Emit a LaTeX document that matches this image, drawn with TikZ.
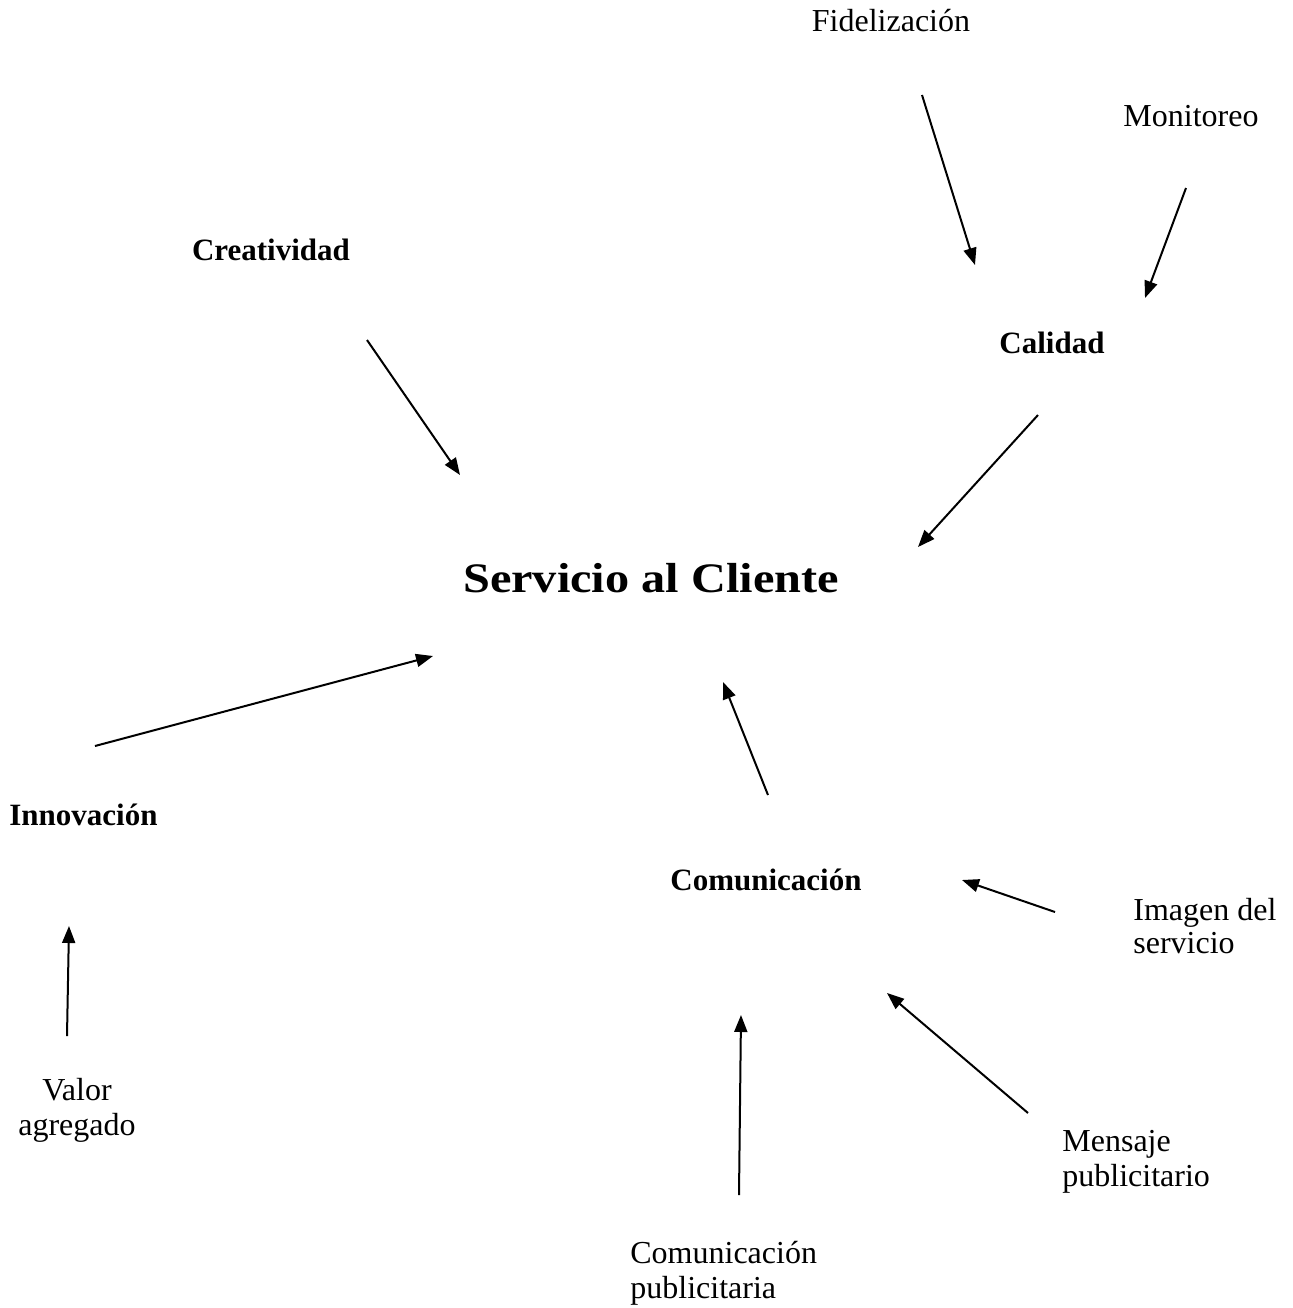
\documentclass[tikz,border=0pt]{standalone}
\usepackage{fontspec}
\setmainfont{Liberation Serif}
\newfontfamily\titlefont[FakeStretch=1.15]{Liberation Serif}
\usetikzlibrary{arrows.meta}
\begin{document}
\begin{tikzpicture}[x=0.5pt,y=-0.5pt,
  plain/.style={font=\fontsize{16}{17.5}\selectfont, inner sep=0pt},
  block/.style={font=\fontsize{16}{17.5}\selectfont, inner sep=0pt, align=left, anchor=base west},
  concept/.style={font=\bfseries\fontsize{15.5}{18}\selectfont, inner sep=0pt, anchor=base},
  core/.style={font=\titlefont\bfseries\fontsize{21}{24}\selectfont, inner sep=0pt, anchor=base},
  link/.style={line width=1pt, -{Triangle[length=8.5pt,width=6.5pt]}}]
\useasboundingbox (0,0) rectangle (1293,1308);

% central idea
\node[core] (servicio) at (651,592) {Servicio al Cliente};

% main concepts
\node[concept] (creatividad) at (271,260) {Creatividad};
\node[concept] (calidad) at (1052,353) {Calidad};
\node[concept] (innovacion) at (83.5,825) {Innovación};
\node[concept] (comunicacion) at (766,890) {Comunicación};

% supporting ideas (multi-line nodes sit on the baseline of their last line)
\node[plain, anchor=base] (fidel) at (891,31) {Fidelización};
\node[plain, anchor=base] (monit) at (1191,126) {Monitoreo};
\node[plain, anchor=base, align=center] (valor) at (77,1135) {Valor\\agregado};
\node[block, font=\fontsize{16}{16.5}\selectfont] (imagen) at (1133,953) {Imagen del\\servicio};
\node[block] (mensaje) at (1062,1186) {Mensaje\\publicitario};
\node[block] (compub) at (630,1298) {Comunicación\\publicitaria};

% arrow end points
\coordinate (fidelA) at (922,95);   \coordinate (fidelB) at (975,265);
\coordinate (monitA) at (1186,188); \coordinate (monitB) at (1145,298);
\coordinate (creaA) at (367,340);   \coordinate (creaB) at (460,475);
\coordinate (caliA) at (1038,415);  \coordinate (caliB) at (918,547);
\coordinate (innoA) at (95,746);    \coordinate (innoB) at (433,656);
\coordinate (valA) at (67,1036);    \coordinate (valB) at (69,926);
\coordinate (comA) at (768,795);    \coordinate (comB) at (723,682);
\coordinate (imgA) at (1055,912);   \coordinate (imgB) at (962,880);
\coordinate (menA) at (1028,1113);  \coordinate (menB) at (887,993);
\coordinate (cpA) at (739,1195);    \coordinate (cpB) at (741,1015);

\draw[link] (fidelA) -- (fidelB);
\draw[link] (monitA) -- (monitB);
\draw[link] (creaA) -- (creaB);
\draw[link] (caliA) -- (caliB);
\draw[link] (innoA) -- (innoB);
\draw[link] (valA) -- (valB);
\draw[link] (comA) -- (comB);
\draw[link] (imgA) -- (imgB);
\draw[link] (menA) -- (menB);
\draw[link] (cpA) -- (cpB);
\end{tikzpicture}
\end{document}
